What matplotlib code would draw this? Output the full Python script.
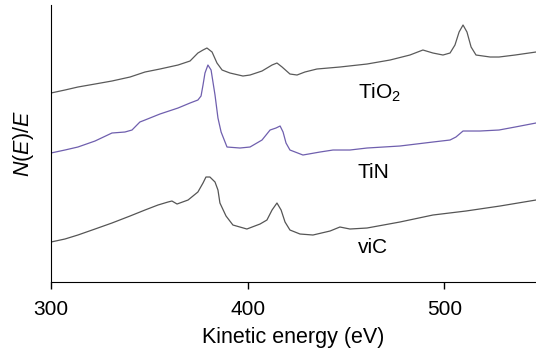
import matplotlib
matplotlib.use('Agg')
import matplotlib.pyplot as plt

plt.rcParams['font.family'] = ['Liberation Sans', 'DejaVu Sans']
plt.rcParams['mathtext.fontset'] = 'custom'
plt.rcParams['mathtext.rm'] = 'Liberation Sans'
plt.rcParams['mathtext.it'] = 'Liberation Sans:italic'

# TiO2 spectrum (top trace)
tio2_e = [300.0, 307.1, 313.7, 322.4, 331.0, 340.2, 347.8, 355.4, 364.6, 370.7,
          374.7, 377.3, 379.3, 381.9, 384.4, 387.0, 391.0, 397.6, 401.2, 407.3,
          412.4, 414.9, 417.5, 421.5, 425.1, 429.1, 435.2, 446.9, 460.7, 472.4,
          482.5, 489.1, 494.2, 499.3, 502.9, 505.4, 507.5, 509.5, 511.5, 513.6,
          516.1, 523.3, 527.8, 536.0, 546.6]
tio2_n = [189, 192, 195, 198, 201, 205, 210, 213, 217, 221,
          229, 232, 234, 230, 219, 212, 209, 206, 207, 211,
          217, 219, 215, 208, 207, 210, 213, 215, 218, 222,
          227, 232, 229, 227, 229, 237, 250, 257, 250, 235,
          227, 225, 225, 227, 230]

# TiN spectrum (middle trace)
tin_e = [300.0, 307.1, 313.7, 322.4, 331.0, 337.6, 341.2, 345.2, 347.8, 355.4,
         364.6, 370.7, 374.7, 376.3, 377.3, 378.3, 379.8, 381.4, 383.4, 384.9,
         386.5, 389.5, 396.1, 401.2, 407.3, 411.4, 414.4, 416.5, 418.0, 419.5,
         421.5, 428.1, 436.8, 443.4, 452.0, 460.7, 477.4, 494.2, 502.9, 505.9,
         509.5, 518.1, 527.8, 536.0, 546.6]
tin_n = [129, 132, 135, 141, 149, 150, 152, 160, 162, 168,
         174, 179, 182, 186, 197, 209, 217, 212, 187, 164,
         150, 135, 134, 135, 142, 152, 154, 156, 150, 139,
         132, 127, 130, 132, 132, 134, 136, 140, 142, 145,
         151, 151, 152, 155, 159]

# VC spectrum (bottom trace)
vic_e = [300.0, 307.1, 313.7, 322.4, 331.0, 340.2, 347.8, 354.4, 359.5, 361.5,
         364.1, 369.7, 374.7, 377.3, 378.8, 380.8, 383.4, 384.9, 385.9, 389.0,
         392.5, 399.6, 406.3, 409.8, 412.4, 414.9, 417.0, 419.0, 421.5, 426.6,
         433.2, 441.9, 446.9, 452.0, 460.7, 477.4, 494.2, 511.0, 528.3, 546.6]
vic_n = [40, 43, 47, 53, 59, 66, 72, 77, 80, 81,
         78, 82, 90, 99, 105, 105, 100, 92, 79, 66,
         57, 53, 58, 62, 72, 79, 72, 60, 52, 48,
         47, 51, 55, 53, 54, 60, 67, 71, 76, 82]

fig = plt.figure(figsize=(5.36, 3.53), dpi=100)
ax = fig.add_axes([0.0951, 0.2011, 0.9049, 0.7847])

ax.plot(tio2_e, tio2_n, color='#5a5a5a', lw=0.9)
ax.plot(tin_e, tin_n, color='#6f5fae', lw=0.9)
ax.plot(vic_e, vic_n, color='#555555', lw=0.9)

ax.text(456, 183, 'TiO$_2$', fontsize=15, ha='left', va='baseline')
ax.text(456, 104, 'TiN', fontsize=15, ha='left', va='baseline')
ax.text(456, 29, 'viC', fontsize=15, ha='left', va='baseline')

ax.set_xlim(300, 546.6)
ax.set_ylim(0, 277)
ax.set_xticks([300, 400, 500])
ax.set_yticks([])
ax.tick_params(axis='x', labelsize=15, length=5, width=1, pad=8)
ax.spines['top'].set_visible(False)
ax.spines['right'].set_visible(False)
ax.set_xlabel('Kinetic energy (eV)', fontsize=15.5, labelpad=6)
ax.set_ylabel('$N$($E$)/$E$', fontsize=15.5, labelpad=11)

fig.savefig('out.png', dpi=100)
